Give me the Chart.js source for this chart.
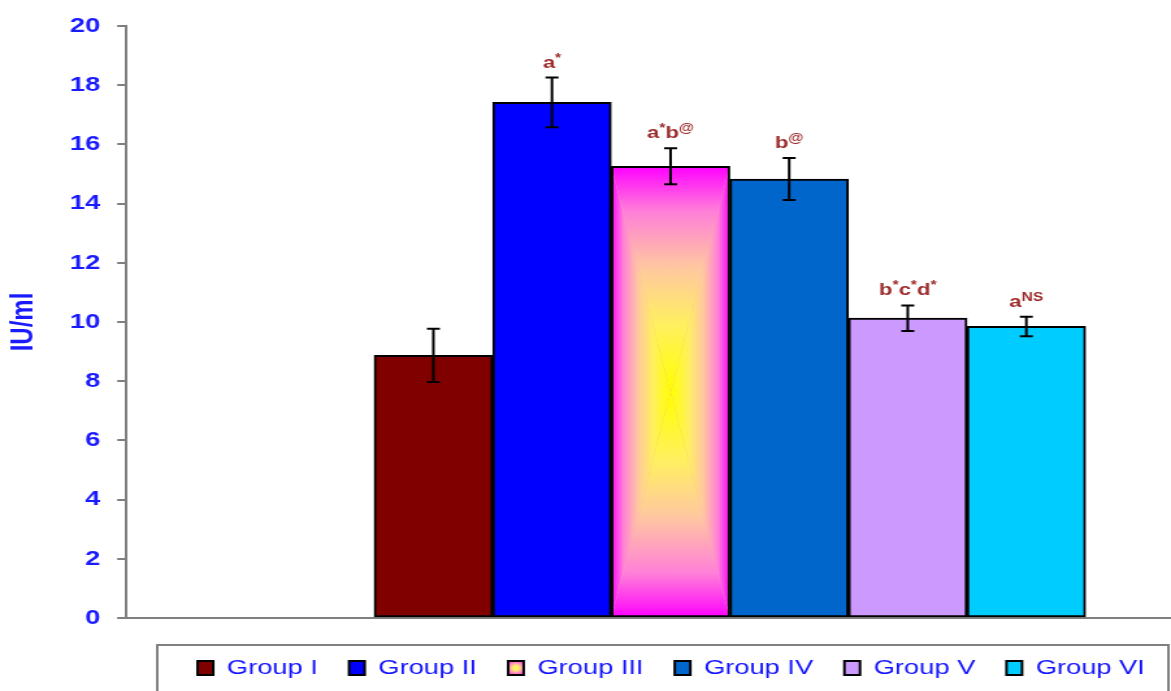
<!DOCTYPE html>
<html>
<head>
<meta charset="utf-8">
<title>IU/ml by group</title>
<script src="https://cdn.jsdelivr.net/npm/chart.js@4.4.1/dist/chart.umd.min.js"></script>
<style>
  html, body { margin: 0; padding: 0; background: #ffffff; overflow: hidden; }
  #wrap { width: 1171px; height: 691px; overflow: hidden; }
  /* the figure is drawn on a narrower canvas and widened horizontally */
  #c { display: block; transform-origin: 0 0; transform: scaleX(1.29967); }
</style>
</head>
<body>
<div id="wrap"><canvas id="c" width="901" height="691"></canvas></div>
<script>
// ---- data ----
const groups = ['Group I', 'Group II', 'Group III', 'Group IV', 'Group V', 'Group VI'];
const means = [8.87, 17.42, 15.26, 14.83, 10.13, 9.85];
const sem = [0.90, 0.84, 0.61, 0.71, 0.43, 0.33];
// "^" marks a superscript run
const sigLabels = ['', 'a^*', 'a^*b^@', 'b^@', 'b^*c^*d^*', 'a^NS'];
const yTicks = [0, 2, 4, 6, 8, 10, 12, 14, 16, 18, 20];

// ---- styles ----
const FONT = '"Liberation Sans", Arial, Helvetica, sans-serif';
const AXIS_BLUE = '#1a1aff';
const SIG_RED = '#9c2b2b';
const AXIS_GREY = '#7f7f7f';
const solidFills = ['#800000', '#0000ff', null, '#0066cc', '#cc99ff', '#00ccff'];
const X_MIN = -1.59, X_MAX = 7.22;

// Rectangular "from centre" gradient (yellow core, magenta rim) for a bar
function centreGradient(context) {
  const chart = context.chart;
  const xs = chart.scales && chart.scales.x;
  const ys = chart.scales && chart.scales.y;
  if (!chart.chartArea || !xs || !ys) return '#ff80d0';
  const i = context.datasetIndex;
  const half = Math.abs(xs.getPixelForValue(2) - xs.getPixelForValue(1)) / 2;
  const cx = xs.getPixelForValue(i + 1);
  const top = ys.getPixelForValue(means[i]);
  const bottom = ys.getPixelForValue(0);
  const cy = (top + bottom) / 2;
  const l = cx - half, r = cx + half;
  const off = document.createElement('canvas');
  off.width = chart.width; off.height = chart.height;
  const g = off.getContext('2d');
  const stops = [[0, '#ffff00'], [0.3, '#fff060'], [0.55, '#ffc8a0'], [0.8, '#ff80d8'], [1, '#ff00ff']];
  g.fillStyle = '#ffa0c8';
  g.fillRect(l, top, r - l, bottom - top);
  const tri = (pts, x0, y0, x1, y1) => {
    const lg = g.createLinearGradient(x0, y0, x1, y1);
    stops.forEach(s => lg.addColorStop(s[0], s[1]));
    g.fillStyle = lg;
    g.beginPath();
    g.moveTo(pts[0][0], pts[0][1]);
    g.lineTo(pts[1][0], pts[1][1]);
    g.lineTo(pts[2][0], pts[2][1]);
    g.closePath();
    g.fill();
  };
  tri([[cx, cy], [l, top], [r, top]], cx, cy, cx, top);
  tri([[cx, cy], [l, bottom], [r, bottom]], cx, cy, cx, bottom);
  tri([[cx, cy], [l, top], [l, bottom]], cx, cy, l, cy);
  tri([[cx, cy], [r, top], [r, bottom]], cx, cy, r, cy);
  return chart.ctx.createPattern(off, 'no-repeat');
}

const datasets = groups.map((name, i) => ({
  label: name,
  data: [{ x: i + 1, y: means[i] }],
  backgroundColor: solidFills[i] || centreGradient,
  borderColor: '#000000',
  borderWidth: 2,
  borderSkipped: false
}));

// Error bars (mean ± SEM)
const errorBars = {
  id: 'errorBars',
  afterDatasetsDraw(chart) {
    const { ctx, scales: { x, y } } = chart;
    ctx.save();
    ctx.strokeStyle = '#000000';
    ctx.lineWidth = 2;
    means.forEach((m, i) => {
      const px = x.getPixelForValue(i + 1);
      const hi = y.getPixelForValue(m + sem[i]);
      const lo = y.getPixelForValue(m - sem[i]);
      ctx.beginPath();
      ctx.moveTo(px, hi); ctx.lineTo(px, lo);
      ctx.moveTo(px - 5, hi); ctx.lineTo(px + 5, hi);
      ctx.moveTo(px - 5, lo); ctx.lineTo(px + 5, lo);
      ctx.stroke();
    });
    ctx.restore();
  }
};

// Significance letters above each error bar, with superscripts
const sigMarks = {
  id: 'sigMarks',
  afterDatasetsDraw(chart) {
    const { ctx, scales: { x, y } } = chart;
    const baseFont = 'bold 17px ' + FONT;
    const supFont = 'bold 12px ' + FONT;
    ctx.save();
    ctx.fillStyle = SIG_RED;
    ctx.textBaseline = 'alphabetic';
    ctx.textAlign = 'left';
    sigLabels.forEach((txt, i) => {
      if (!txt) return;
      const parts = [...txt.matchAll(/\^([^a-z]+)|([a-z]+)/g)]
        .map(mm => mm[1] ? { t: mm[1], sup: true } : { t: mm[2], sup: false });
      let total = 0;
      parts.forEach(p => { ctx.font = p.sup ? supFont : baseFont; p.w = ctx.measureText(p.t).width; total += p.w; });
      const cx = x.getPixelForValue(i + 1);
      const baseline = y.getPixelForValue(means[i] + sem[i]) - 10;
      let px = cx - total / 2;
      parts.forEach(p => {
        ctx.font = p.sup ? supFont : baseFont;
        ctx.fillText(p.t, px, p.sup ? baseline - 6 : baseline);
        px += p.w;
      });
    });
    ctx.restore();
  }
};

// Legend placement, frame and the gradient swatch
const legendFrame = {
  id: 'legendFrame',
  afterLayout(chart) {
    const lg = chart.legend;
    if (!lg) return;
    lg.left += 66;
    lg.right += 66;
  },
  beforeDraw(chart) {
    const lg = chart.legend;
    if (!lg || !lg.legendItems || !lg.legendHitBoxes) return;
    const hb = lg.legendHitBoxes[2];
    const item = lg.legendItems[2];
    if (!hb || !item) return;
    const bw = lg.options.labels.boxWidth;
    const cx = hb.left + bw / 2;
    const cy = hb.top + hb.height / 2;
    const rg = chart.ctx.createRadialGradient(cx, cy, 0, cx, cy, 7);
    rg.addColorStop(0, '#ffff40');
    rg.addColorStop(0.4, '#ffe080');
    rg.addColorStop(1, '#ff50e0');
    item.fillStyle = rg;
  },
  afterDraw(chart) {
    const { ctx } = chart;
    ctx.save();
    ctx.strokeStyle = '#808080';
    ctx.lineWidth = 2;
    ctx.strokeRect(121, 645, chart.width - 2 - 121, 80);
    ctx.restore();
  }
};

new Chart(document.getElementById('c'), {
  type: 'bar',
  data: { datasets },
  plugins: [errorBars, sigMarks, legendFrame],
  options: {
    responsive: false,
    devicePixelRatio: 1,
    animation: false,
    events: [],
    layout: { padding: { top: 26, left: 0, right: 0, bottom: 2.5 } },
    datasets: {
      bar: { grouped: false, barPercentage: 1, categoryPercentage: 1 }
    },
    scales: {
      x: {
        type: 'linear',
        offset: false,
        min: X_MIN,
        max: X_MAX,
        afterBuildTicks(scale) {
          scale.min = X_MIN;
          scale.max = X_MAX;
          scale.ticks = [{ value: X_MIN }, { value: X_MAX }];
        },
        ticks: { display: false },
        grid: { display: false, offset: false },
        border: { display: true, color: AXIS_GREY, width: 2 },
        afterFit(scale) { scale.height = 15.5; }
      },
      y: {
        min: 0,
        max: 20,
        afterBuildTicks(scale) { scale.ticks = yTicks.map(v => ({ value: v })); },
        ticks: {
          color: AXIS_BLUE,
          font: { family: FONT, size: 21, weight: 'bold' },
          padding: 13
        },
        grid: {
          drawOnChartArea: false,
          drawTicks: true,
          tickLength: 7,
          color: AXIS_GREY,
          lineWidth: 2
        },
        border: { display: true, color: AXIS_GREY, width: 2 },
        title: {
          display: true,
          text: 'IU/ml',
          color: AXIS_BLUE,
          font: { family: FONT, size: 24, weight: 'bold' },
          padding: { top: 4, bottom: 8 }
        }
      }
    },
    plugins: {
      tooltip: { enabled: false },
      legend: {
        display: true,
        position: 'bottom',
        align: 'center',
        labels: {
          color: '#1414ff',
          font: { family: FONT, size: 21 },
          boxWidth: 12,
          boxHeight: 14,
          padding: 24
        }
      }
    }
  }
});
</script>
</body>
</html>
